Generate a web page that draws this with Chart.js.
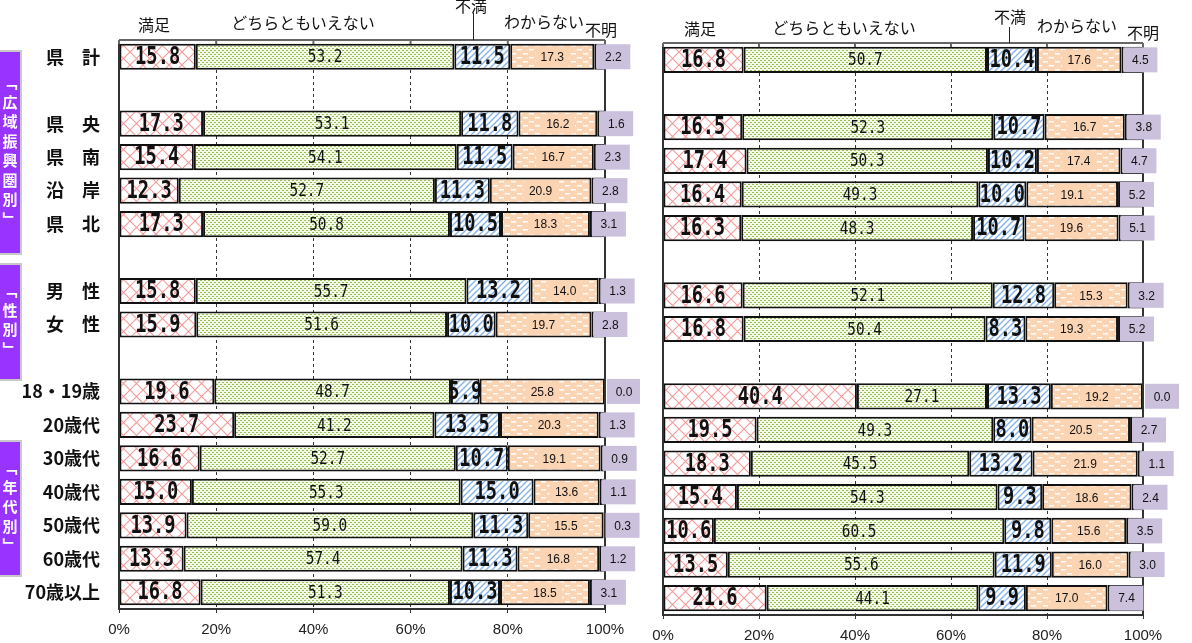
<!DOCTYPE html>
<html>
<head>
<meta charset="utf-8">
<script src="https://cdn.jsdelivr.net/npm/chart.js@4.4.0/dist/chart.umd.min.js"></script>
<style>
body { margin:0; width:1192px; height:643px; overflow:hidden; background:#fff; position:relative; font-family:"Noto Sans CJK JP", sans-serif; }
#leftChart { position:absolute; left:0; top:0; }
#rightChart { position:absolute; left:640px; top:0; }
.hd { position:absolute; font-size:16px; line-height:16px; color:#111; white-space:nowrap; transform:translateX(-50%); }
.lead { position:absolute; width:1px; background:#222; }
.grp { position:absolute; left:0; width:22px; box-sizing:border-box; background:#9933ff; border:2px solid #c8c8c8; border-left:none;
       display:flex; align-items:center; justify-content:center; color:#fff; font-weight:bold; }
.grp span { writing-mode:vertical-rl; font-size:15px; line-height:15px; letter-spacing:4.5px; }
</style>
</head>
<body>
<canvas id="leftChart" width="640" height="643"></canvas>
<canvas id="rightChart" width="552" height="643"></canvas>

<!-- column headers -->
<div class="hd" style="left:154px;top:16px">満足</div>
<div class="hd" style="left:303px;top:14px">どちらともいえない</div>
<div class="hd" style="left:471px;top:-3px">不満</div>
<div class="hd" style="left:544px;top:13px">わからない</div>
<div class="hd" style="left:601px;top:21px">不明</div>
<div class="lead" style="left:473px;top:13px;height:27px"></div>

<div class="hd" style="left:700px;top:20px">満足</div>
<div class="hd" style="left:844px;top:19px">どちらともいえない</div>
<div class="hd" style="left:1010px;top:8px">不満</div>
<div class="hd" style="left:1077px;top:17px">わからない</div>
<div class="hd" style="left:1143px;top:24px">不明</div>
<div class="lead" style="left:1009px;top:27px;height:16px"></div>

<!-- group tags -->
<div class="grp" style="top:50px;height:205px"><span>「広域振興圏別」</span></div>
<div class="grp" style="top:263px;height:118px"><span>「性別」</span></div>
<div class="grp" style="top:440px;height:137px"><span>「年代別」</span></div>

<script>
// 行ラベル（空文字は区切り行）
const rowLabels = ['県　計', '', '県　央', '県　南', '沿　岸', '県　北', '', '男　性', '女　性', '',
    '18・19歳', '20歳代', '30歳代', '40歳代', '50歳代', '60歳代', '70歳以上'];
const seriesNames = ['満足', 'どちらともいえない', '不満', 'わからない', '不明'];
const xTicks = [0, 20, 40, 60, 80, 100];

// 左グラフ
const leftSatisfied    = [15.8, null, 17.3, 15.4, 12.3, 17.3, null, 15.8, 15.9, null, 19.6, 23.7, 16.6, 15.0, 13.9, 13.3, 16.8];
const leftNeutral      = [53.2, null, 53.1, 54.1, 52.7, 50.8, null, 55.7, 51.6, null, 48.7, 41.2, 52.7, 55.3, 59.0, 57.4, 51.3];
const leftDissatisfied = [11.5, null, 11.8, 11.5, 11.3, 10.5, null, 13.2, 10.0, null, 5.9, 13.5, 10.7, 15.0, 11.3, 11.3, 10.3];
const leftUnknown      = [17.3, null, 16.2, 16.7, 20.9, 18.3, null, 14.0, 19.7, null, 25.8, 20.3, 19.1, 13.6, 15.5, 16.8, 18.5];
const leftNoAnswer     = [2.2, null, 1.6, 2.3, 2.8, 3.1, null, 1.3, 2.8, null, 0.0, 1.3, 0.9, 1.1, 0.3, 1.2, 3.1];

// 右グラフ
const rightSatisfied    = [16.8, null, 16.5, 17.4, 16.4, 16.3, null, 16.6, 16.8, null, 40.4, 19.5, 18.3, 15.4, 10.6, 13.5, 21.6];
const rightNeutral      = [50.7, null, 52.3, 50.3, 49.3, 48.3, null, 52.1, 50.4, null, 27.1, 49.3, 45.5, 54.3, 60.5, 55.6, 44.1];
const rightDissatisfied = [10.4, null, 10.7, 10.2, 10.0, 10.7, null, 12.8, 8.3, null, 13.3, 8.0, 13.2, 9.3, 9.8, 11.9, 9.9];
const rightUnknown      = [17.6, null, 16.7, 17.4, 19.1, 19.6, null, 15.3, 19.3, null, 19.2, 20.5, 21.9, 18.6, 15.6, 16.0, 17.0];
const rightNoAnswer     = [4.5, null, 3.8, 4.7, 5.2, 5.1, null, 3.2, 5.2, null, 0.0, 2.7, 1.1, 2.4, 3.5, 3.0, 7.4];

const NOANSWER_COLOR = '#ccc1dd';
const UNKNOWN_COLOR = '#fbd4b4';

function makePattern(w, h, draw) {
    const c = document.createElement('canvas');
    c.width = w; c.height = h;
    draw(c.getContext('2d'), w, h);
    return c.getContext('2d').createPattern(c, 'repeat');
}

const crossPattern = makePattern(13, 13, (g, w, h) => {
    g.fillStyle = '#fff'; g.fillRect(0, 0, w, h);
    g.strokeStyle = '#f49a9a'; g.lineWidth = 1.1;
    g.beginPath();
    g.moveTo(-1, -1); g.lineTo(w + 1, h + 1);
    g.moveTo(w + 1, -1); g.lineTo(-1, h + 1);
    g.stroke();
});
const dotPattern = makePattern(4, 4, (g) => {
    g.fillStyle = '#f5f9e8'; g.fillRect(0, 0, 4, 4);
    g.fillStyle = '#97bf55';
    g.fillRect(0, 0, 2, 1); g.fillRect(2, 2, 2, 1);
});
const stripePattern = makePattern(6, 6, (g, w, h) => {
    g.fillStyle = '#fff'; g.fillRect(0, 0, w, h);
    g.strokeStyle = '#86b4ea'; g.lineWidth = 1.4;
    g.beginPath();
    g.moveTo(-1, h + 1); g.lineTo(w + 1, -1);
    g.moveTo(-1, 1); g.lineTo(1, -1);
    g.moveTo(w - 1, h + 1); g.lineTo(w + 1, h - 1);
    g.stroke();
});
const dashPattern = makePattern(12, 8, (g) => {
    g.fillStyle = UNKNOWN_COLOR; g.fillRect(0, 0, 12, 8);
    g.fillStyle = '#fff';
    g.fillRect(1, 1, 5, 1.5); g.fillRect(7, 5, 5, 1.5);
});
const fills = [crossPattern, dotPattern, stripePattern, dashPattern, NOANSWER_COLOR];

function scaledText(ctx, txt, x, y, font, sx) {
    ctx.save();
    ctx.translate(x, y);
    ctx.scale(sx, 1);
    ctx.font = font;
    ctx.textAlign = 'center';
    ctx.textBaseline = 'middle';
    ctx.fillStyle = '#111';
    ctx.fillText(txt, 0, 0);
    ctx.restore();
}

// 枠線と値ラベル
const framePlugin = {
    id: 'frameAndLabels',
    afterDatasetsDraw(chart) {
        const { ctx, chartArea: a, scales: { x } } = chart;
        ctx.save();
        ctx.strokeStyle = '#333';
        ctx.lineWidth = 2;
        ctx.beginPath();
        ctx.moveTo(a.left, a.top); ctx.lineTo(a.left, a.bottom);
        ctx.moveTo(a.right, a.top); ctx.lineTo(a.right, a.bottom);
        ctx.stroke();
        ctx.strokeStyle = '#666';
        ctx.beginPath();
        ctx.moveTo(a.left, a.top); ctx.lineTo(a.right, a.top);
        xTicks.forEach(t => { const px = x.getPixelForValue(t); ctx.moveTo(px, a.top); ctx.lineTo(px, a.top + 4); });
        ctx.stroke();
        ctx.restore();

        chart.data.datasets.forEach((ds, di) => {
            const meta = chart.getDatasetMeta(di);
            meta.data.forEach((bar, j) => {
                const v = ds.data[j];
                if (v === null || v === undefined) return;
                const txt = v.toFixed(1);
                const cx = (bar.x + bar.base) / 2, cy = bar.y;
                ctx.save();
                if (di === 0 || di === 2) {
                    scaledText(ctx, txt, cx, cy + 1, 'bold 24px "DejaVu Sans Mono", monospace', 0.78);
                } else if (di === 1) {
                    scaledText(ctx, txt, cx, cy + 1, '18px "DejaVu Sans Mono", monospace', 0.8);
                } else if (di === 3) {
                    ctx.fillStyle = UNKNOWN_COLOR;
                    ctx.fillRect(cx - 17, cy - 10, 34, 20);
                    scaledText(ctx, txt, cx, cy + 1, '12px "Liberation Sans", Arial, sans-serif', 1);
                } else {
                    const left = Math.min(bar.base, bar.x) + 2;
                    ctx.fillStyle = NOANSWER_COLOR;
                    ctx.fillRect(left, cy - 12.5, 34, 25);
                    scaledText(ctx, txt, left + 17, cy + 1, '12px "Liberation Sans", Arial, sans-serif', 1);
                }
                ctx.restore();
            });
        });
    }
};

function buildChart(id, series, opts) {
    const ctx = document.getElementById(id).getContext('2d');
    return new Chart(ctx, {
        type: 'bar',
        data: {
            labels: rowLabels,
            datasets: series.map((d, i) => ({
                label: seriesNames[i],
                data: d,
                backgroundColor: fills[i],
                borderColor: '#111',
                borderWidth: 2,
                borderSkipped: false,
                barPercentage: 0.78,
                categoryPercentage: 1
            }))
        },
        options: {
            responsive: false, animation: false, indexAxis: 'y',
            layout: { padding: opts.padding },
            plugins: { legend: { display: false }, tooltip: { enabled: false } },
            scales: {
                x: {
                    stacked: true, min: 0, max: 100,
                    afterBuildTicks: (s) => { s.ticks = xTicks.map(v => ({ value: v })); },
                    afterFit: (s) => { s.height = opts.xHeight; },
                    ticks: { callback: v => v + '%', padding: 8, color: '#222', font: { family: '"Liberation Sans", Arial, sans-serif', size: 15 } },
                    grid: {
                        color: c => (c.tick && (c.tick.value === 0 || c.tick.value === 100)) ? 'rgba(0,0,0,0)' : '#333',
                        lineWidth: 1, drawTicks: true, tickLength: 4, tickColor: '#333'
                    },
                    border: { display: true, color: '#333', width: 2, dash: [3, 3] }
                },
                y: {
                    stacked: true,
                    display: opts.showRows,
                    afterFit: (s) => { if (opts.showRows) s.width = 119; },
                    grid: { display: false, drawTicks: false },
                    border: { display: false },
                    ticks: { padding: 19, color: '#111', font: { family: '"Noto Sans CJK JP", sans-serif', size: 18, weight: 'bold' } }
                }
            }
        },
        plugins: [framePlugin]
    });
}

buildChart('leftChart', [leftSatisfied, leftNeutral, leftDissatisfied, leftUnknown, leftNoAnswer],
    { padding: { left: 0, right: 35, top: 40, bottom: 0 }, xHeight: 34, showRows: true });
buildChart('rightChart', [rightSatisfied, rightNeutral, rightDissatisfied, rightUnknown, rightNoAnswer],
    { padding: { left: 23, right: 49, top: 43, bottom: 0 }, xHeight: 28, showRows: false });
</script>
</body>
</html>
